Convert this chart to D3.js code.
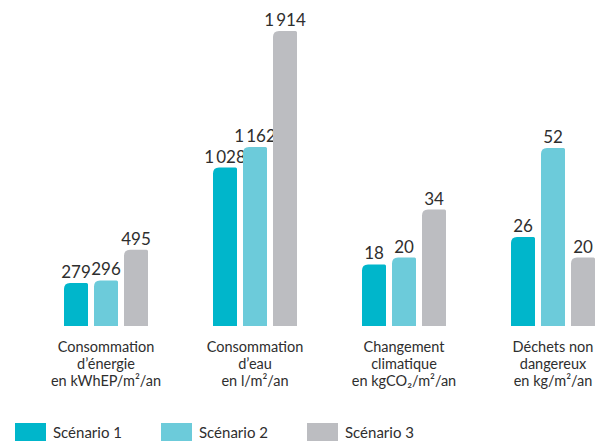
<!DOCTYPE html>
<html>
<head>
<meta charset="utf-8">
<script src="https://cdn.jsdelivr.net/npm/d3@7"></script>
<style>
  html, body { margin: 0; padding: 0; background: #fff; }
  svg { display: block; font-family: Lato, "Open Sans", sans-serif; }
</style>
</head>
<body>
<svg id="chart" width="607" height="441"></svg>
<script>
// Indicators (one group each) with their unit lines
const categories = [
  ["Consommation", "d\u2019énergie", "en kWhEP/m\u00B2/an"],
  ["Consommation", "d\u2019eau", "en l/m\u00B2/an"],
  ["Changement", "climatique", "en kgCO\u2082/m\u00B2/an"],
  ["Déchets non", "dangereux", "en kg/m\u00B2/an"]
];
// Which value axis each indicator is drawn against (energy & water share one, CO2 & waste another)
const axisOf = [0, 0, 1, 1];
const seriesNames = ["Scénario 1", "Scénario 2", "Scénario 3"];
const scenario1 = [279, 1028, 18, 26];
const scenario2 = [296, 1162, 20, 52];
const scenario3 = [495, 1914, 34, 20];
const colors = ["#00b6cb", "#6ccbda", "#bcbdc1"];

const series = [scenario1, scenario2, scenario3];
const svg = d3.select("#chart");

const baseY = 326;
const x0 = d3.scaleBand().domain(d3.range(categories.length)).range([34, 630]);
const x1 = d3.scaleBand().domain(d3.range(series.length)).range([30, 114]).paddingInner(0.2).paddingOuter(0);

// Two value scales
const maxA = d3.max(series, s => d3.max(s.filter((v, i) => axisOf[i] === 0)));
const maxB = d3.max(series, s => d3.max(s.filter((v, i) => axisOf[i] === 1)));
const yScales = [
  d3.scaleLinear().domain([0, maxA]).range([baseY, 31]),
  d3.scaleLinear().domain([0, maxB]).range([baseY, 148])
];

const fmt = v => d3.format(",")(v).replace(/,/g, "\u2009");

// Bar with a rounded top-left corner and slightly softened top-right
function barPath(x, y, w, h) {
  const rl = Math.min(6, h), rr = Math.min(1.5, h);
  return `M${x},${y + h}V${y + rl}Q${x},${y} ${x + rl},${y}H${x + w - rr}Q${x + w},${y} ${x + w},${y + rr}V${y + h}Z`;
}

const groups = svg.selectAll("g.grp").data(categories).join("g")
  .attr("class", "grp")
  .attr("transform", (d, i) => `translate(${x0(i)},0)`);

groups.each(function(cat, ci) {
  const g = d3.select(this);
  const y = yScales[axisOf[ci]];
  series.forEach((s, si) => {
    const v = s[ci];
    const bx = x1(si), bw = x1.bandwidth();
    g.append("path")
      .attr("d", barPath(bx, y(v), bw, baseY - y(v)))
      .attr("fill", colors[si]);
    g.append("text")
      .attr("x", bx + bw / 2)
      .attr("y", y(v) - 5)
      .attr("text-anchor", "middle")
      .attr("font-size", 17)
      .attr("fill", "#2e2e2e")
      .text(fmt(v));
  });
  const t = g.append("text")
    .attr("text-anchor", "middle")
    .attr("font-size", 14.5)
    .attr("fill", "#2e2e2e");
  cat.forEach((line, li) => {
    t.append("tspan")
      .attr("x", (x1.range()[0] + x1.range()[1]) / 2)
      .attr("y", 352 + li * 17)
      .text(line);
  });
});

// Legend
const legend = svg.append("g").selectAll("g").data(seriesNames).join("g")
  .attr("transform", (d, i) => `translate(${15 + i * 146},423)`);
legend.append("rect").attr("width", 31).attr("height", 20).attr("fill", (d, i) => colors[i]);
legend.append("text").attr("x", 38).attr("y", 15).attr("font-size", 15).attr("fill", "#2e2e2e").text(d => d);
</script>
</body>
</html>
